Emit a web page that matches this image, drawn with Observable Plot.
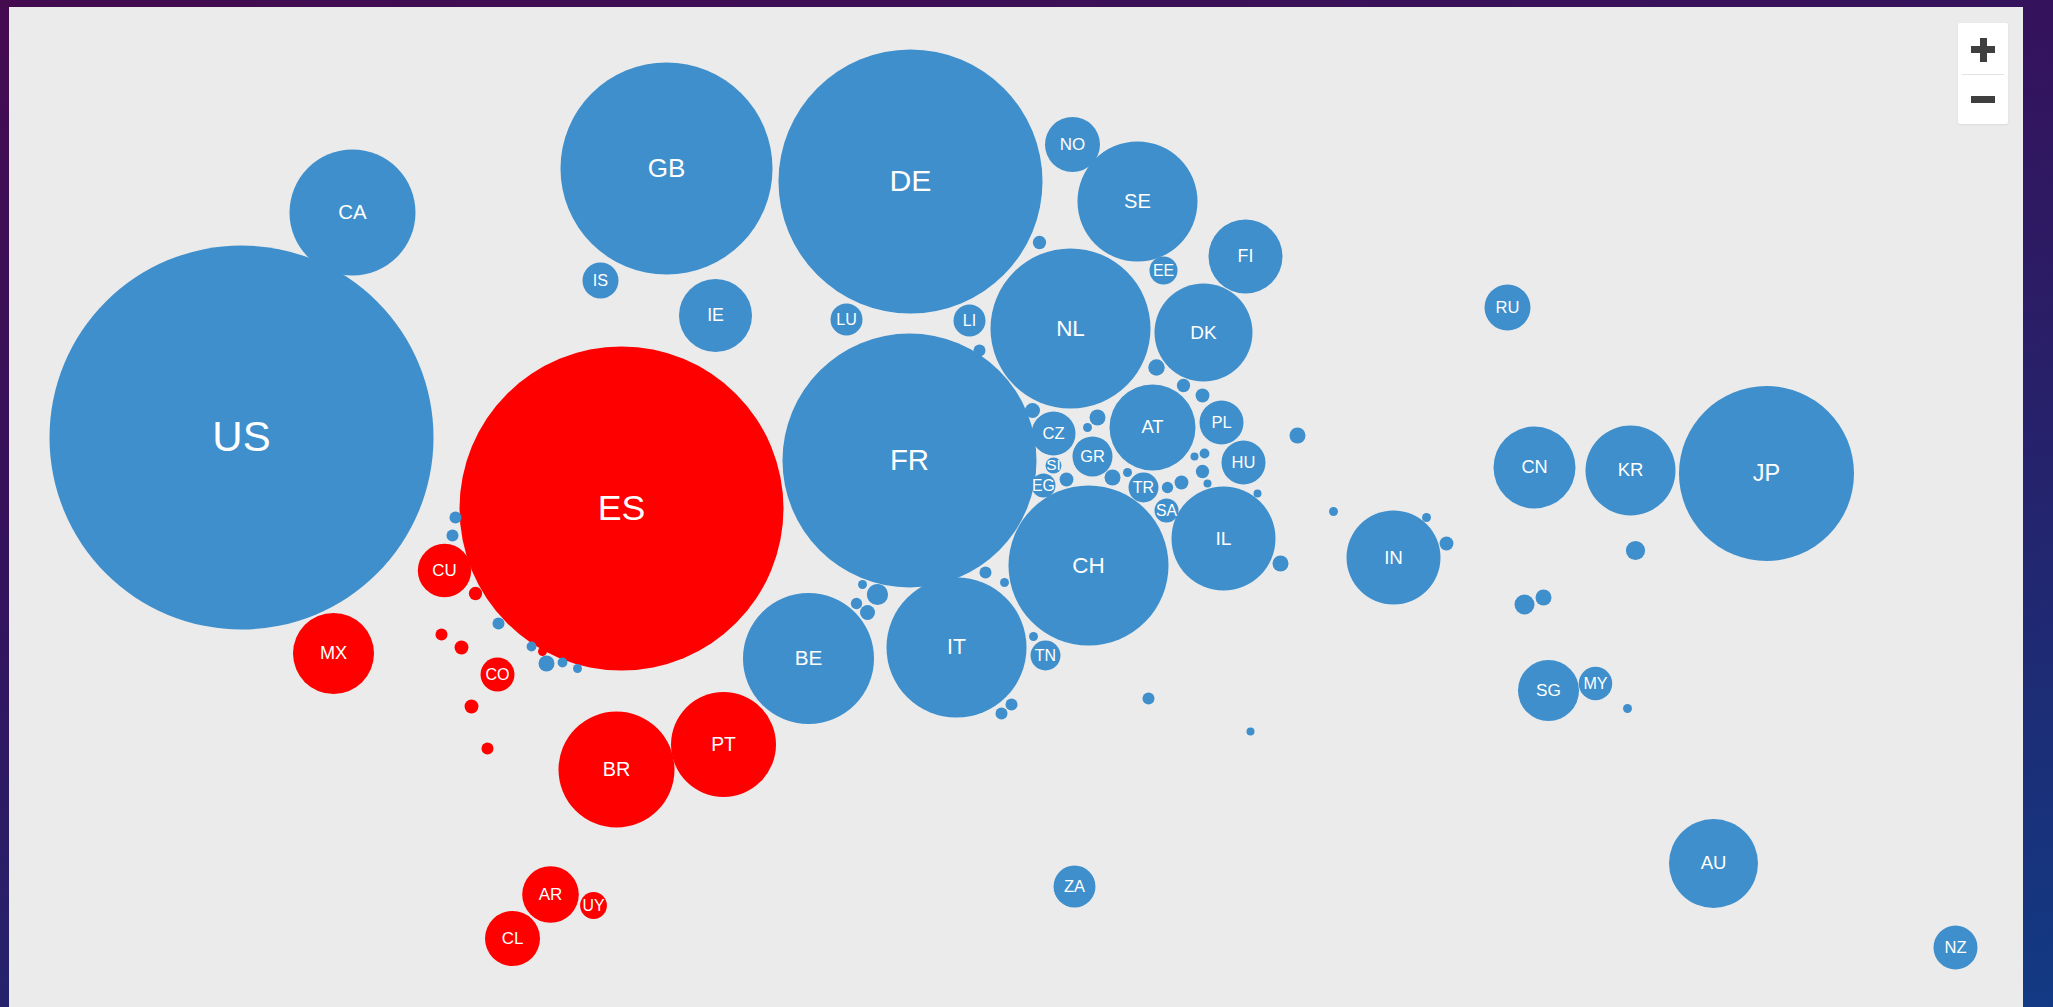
<!DOCTYPE html>
<html>
<head>
<meta charset="utf-8">
<script src="https://cdn.jsdelivr.net/npm/d3@7"></script>
<script src="https://cdn.jsdelivr.net/npm/@observablehq/plot@0.6"></script>
<style>
  html, body { margin: 0; padding: 0; }
  body {
    width: 2053px; height: 1007px; overflow: hidden; position: relative;
    background: linear-gradient(165deg, #440b4f 0%, #33145e 40%, #22266f 70%, #123a84 100%);
    font-family: "Liberation Sans", Arial, sans-serif;
  }
  #panel {
    position: absolute; left: 9px; top: 7px; width: 2014px; height: 1000px;
    background: #ebebeb; overflow: hidden;
  }
  #chart svg { display: block; }
  .zoomctl {
    position: absolute; left: 1949px; top: 16px; width: 50px; height: 101px;
    background: #ffffff; border-radius: 2px; box-shadow: 0 1px 2px rgba(0,0,0,0.08);
  }
  .zoomctl .sep { position: absolute; left: 4px; right: 4px; top: 51px; height: 1px; background: #e2e2e2; }
  .bar { position: absolute; background: #3f3f3f; }
</style>
</head>
<body>
<div id="panel">
  <div id="chart"></div>
  <div class="zoomctl">
    <div class="bar" style="left:13px; top:23px; width:24px; height:7px;"></div>
    <div class="bar" style="left:21.5px; top:14.5px; width:7px; height:24px;"></div>
    <div class="sep"></div>
    <div class="bar" style="left:13px; top:73px; width:24px; height:7px;"></div>
  </div>
</div>
<script>
// Country code ("" = unlabeled small bubble)
const codes = [
  "US","CA","GB","IS","IE","DE","NO","SE","FI","EE","LU","LI","NL","DK","FR",
  "CZ","AT","PL","GR","HU","SI","EG","TR","SA","IL","CH","IT","TN","BE","ZA",
  "RU","IN","CN","KR","JP","SG","MY","AU","NZ",
  "ES","CU","MX","CO","BR","PT","AR","UY","CL",
  "","","","","","",
  "","","","","","","",
  "","","","","","","","","","","","","","","","","","","","","","","","","",
  "","","","","","","","","","","","","","","",""
];
// Group: 1 = Spanish-speaking / Ibero-American (red), 0 = others (blue)
const groups = [
  0,0,0,0,0,0,0,0,0,0,0,0,0,0,0,
  0,0,0,0,0,0,0,0,0,0,0,0,0,0,0,
  0,0,0,0,0,0,0,0,0,
  1,1,1,1,1,1,1,1,1,
  1,1,1,1,1,1,
  0,0,0,0,0,0,0,
  0,0,0,0,0,0,0,0,0,0,0,0,0,0,0,0,0,0,0,0,0,0,0,0,0,
  0,0,0,0,0,0,0,0,0,0,0,0,0,0,0,0
];
// Cartogram layout coordinates
const layoutX = [
  241,352,666,600,715,910,1072,1137,1245,1163,846,969,1070,1203,909,
  1053,1152,1221,1092,1243,1053,1043,1143,1166,1223,1088,956,1045,808,1074,
  1507,1393,1534,1630,1766,1548,1595,1713,1955,
  621,444,333,497,616,723,550,593,512,
  475,441,461,471,487,542,
  455,452,498,531,546,562,577,
  1039,979,1156,1183,1202,1032,1097,1087,1297,1066,1112,1127,1167,1181,1194,1204,1202,1207,1257,1333,1280,985,1004,1033,1011,
  1001,1148,1250,862,877,856,867,1426,1446,1635,1524,1543,1627,
  0,0,0
].slice(0, 103);
const layoutY = [
  437,212,168,280,315,181,144,201,256,270,319,320,328,332,460,
  433,427,422,456,462,465,485,487,510,538,565,647,655,658,886,
  307,557,467,470,473,690,683,863,947,
  508,570,653,674,769,744,894,905,938,
  593,634,647,706,748,651,
  517,535,623,646,663,662,668,
  242,350,367,385,395,410,417,427,435,479,477,472,487,482,456,453,471,483,493,511,563,572,582,636,704,
  713,698,731,584,594,603,612,517,543,550,604,597,708
];
// Bubble values (area-proportional)
const values = [
  9216,992,2809,81,333,4356,189,900,342,49,64,64,1600,600,4032,
  121,462,121,100,121,16,36,56,36,676,1600,1225,56,1073,110,
  132,552,420,506,1914,233,70,495,121,
  6561,178,410,72,841,689,200,45,189,
  11,9,12,12,9,5,
  9,9,9,6,16,6,5,
  11,9,17,11,12,14,16,5,16,12,16,5,8,12,4,6,11,4,4,5,16,9,5,5,9,
  9,9,4,5,28,8,14,5,12,23,25,16,5
];

const n = layoutY.length;
const data = d3.range(n).map(i => ({
  code: codes[i] || "",
  group: groups[i],
  x: layoutX[i],
  y: layoutY[i],
  value: values[i]
}));

const maxValue = d3.max(values);
const maxR = 192;
const radius = v => maxR * Math.sqrt(v / maxValue);
const labelSize = v => { const r = radius(v); return 15 + 0.06 * r + 0.00042 * r * r; };

const chart = Plot.plot({
  width: 2014,
  height: 1000,
  margin: 0,
  x: {domain: [9, 2023], range: [0, 2014], axis: null},
  y: {domain: [7, 1007], range: [0, 1000], axis: null},
  r: {type: "sqrt", domain: [0, maxValue], range: [0, maxR]},
  color: {type: "ordinal", domain: [0, 1], range: ["#3e8fcc", "#ff0000"]},
  style: {background: "transparent", overflow: "visible"},
  marks: [
    Plot.dot(data, {x: "x", y: "y", r: "value", fill: "group", sort: null}),
    Plot.text(data.filter(d => d.code), {
      x: "x", y: "y", text: "code",
      fill: "white",
      fontSize: d => labelSize(d.value),
      fontFamily: "Liberation Sans, Arial, sans-serif",
      lineAnchor: "middle",
      textAnchor: "middle"
    })
  ]
});
document.getElementById("chart").appendChild(chart);
</script>
</body>
</html>
